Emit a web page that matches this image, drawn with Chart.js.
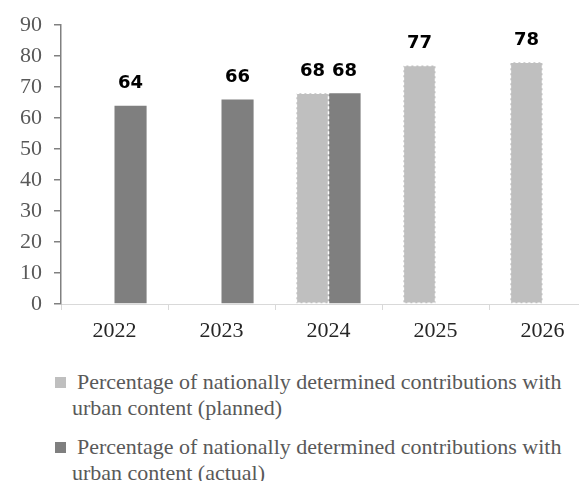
<!DOCTYPE html>
<html>
<head>
<meta charset="utf-8">
<script src="https://cdn.jsdelivr.net/npm/chart.js@4"></script>
<style>
  html, body { margin: 0; padding: 0; overflow: hidden; background: #fff; }
  #wrap { position: relative; width: 579px; height: 481px; overflow: hidden; }
  #chart { position: absolute; left: 0; top: 0; }
  .leg-box { position: absolute; width: 11px; height: 11px; }
  .leg-text {
    position: absolute; left: 72px; white-space: nowrap;
    font-family: "Liberation Serif", serif; font-size: 22px; line-height: 26px;
    color: #595959; text-indent: 5px;
  }
</style>
</head>
<body>
<div id="wrap">
  <canvas id="chart" width="600" height="345"></canvas>
  <div class="leg-box" style="left:55px; top:377px; background:#bfbfbf;"></div>
  <div class="leg-text" style="top:369px;">Percentage of nationally determined contributions with<br>urban content (planned)</div>
  <div class="leg-box" style="left:55px; top:442px; background:#7f7f7f;"></div>
  <div class="leg-text" style="top:434px;">Percentage of nationally determined contributions with<br>urban content (actual)</div>
</div>
<script>
// Chart data
const years = ['2022', '2023', '2024', '2025', '2026'];
const plannedValues = [null, null, 68, 77, 78];
const actualValues = [64, 66, 68, null, null];
const yMin = 0;
const yMax = 90;
const yStep = 10;

// Value labels above the bars + dashed edge on planned bars
const barExtras = {
    id: 'barExtras',
    afterDatasetsDraw(chart) {
        const ctx = chart.ctx;
        ctx.save();
        // dashed outline on planned bars
        const m0 = chart.getDatasetMeta(0);
        ctx.setLineDash([3, 2]);
        ctx.lineWidth = 1.5;
        ctx.strokeStyle = '#ffffff';
        m0.data.forEach((bar, i) => {
            if (plannedValues[i] == null) return;
            const w = bar.width;
            ctx.strokeRect(bar.x - w / 2, bar.y, w, bar.base - bar.y);
        });
        ctx.setLineDash([]);
        // labels
        ctx.font = 'bold 18px "DejaVu Sans"';
        ctx.fillStyle = '#000000';
        ctx.textAlign = 'center';
        ctx.textBaseline = 'middle';
        chart.data.datasets.forEach((ds, d) => {
            const meta = chart.getDatasetMeta(d);
            meta.data.forEach((bar, i) => {
                const v = ds.data[i];
                if (v == null) return;
                ctx.fillText(String(v), bar.x, bar.y - 22);
            });
        });
        ctx.restore();
    }
};

function initializeChart() {
    const ctx = document.getElementById('chart');

    new Chart(ctx, {
        type: 'bar',
        data: {
            labels: years,
            datasets: [{
                label: 'Percentage of nationally determined contributions with urban content (planned)',
                data: plannedValues,
                backgroundColor: '#bfbfbf',
                borderWidth: 0
            }, {
                label: 'Percentage of nationally determined contributions with urban content (actual)',
                data: actualValues,
                backgroundColor: '#7f7f7f',
                borderWidth: 0
            }]
        },
        options: {
            responsive: false,
            animation: false,
            layout: {
                padding: { top: 22, right: 4, left: 0, bottom: 0 }
            },
            datasets: {
                bar: { categoryPercentage: 0.6, barPercentage: 1.0 }
            },
            scales: {
                x: {
                    grid: {
                        drawOnChartArea: false,
                        color: '#d9d9d9',
                        tickLength: 6
                    },
                    border: { color: '#d9d9d9', width: 1 },
                    ticks: {
                        color: '#262626',
                        padding: 8,
                        font: { family: '"Liberation Serif"', size: 22 }
                    },
                    afterFit(scale) { scale.height = 41; }
                },
                y: {
                    min: yMin,
                    max: yMax,
                    grid: {
                        drawOnChartArea: false,
                        color: '#808080',
                        lineWidth: 1.5,
                        tickLength: 7
                    },
                    border: { color: '#808080', width: 1.5 },
                    ticks: {
                        stepSize: yStep,
                        color: '#595959',
                        padding: 12,
                        font: { family: '"Liberation Serif"', size: 22 }
                    },
                    afterFit(scale) { scale.width = 61; }
                }
            },
            plugins: {
                legend: { display: false },
                tooltip: { enabled: false }
            }
        },
        plugins: [barExtras]
    });
}

document.addEventListener('DOMContentLoaded', initializeChart);
</script>
</body>
</html>
